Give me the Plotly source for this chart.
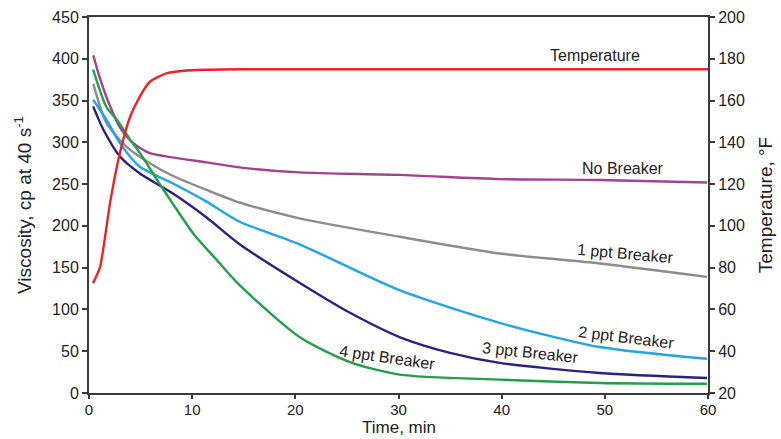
import plotly.graph_objects as go

# Temperature (°F, right axis)
temp_t = [0.39, 1.07, 2.04, 3.0, 3.97, 4.94, 5.9, 7.5, 9.8, 15, 20, 30, 40, 50, 60]
temp_v = [72.6, 80.3, 111, 135, 152, 162, 169, 173, 174.5, 175, 175, 175, 175, 175, 175]

# Viscosity (cp, left axis)
nob_t = [0.42, 0.9, 1.7, 3.0, 4.3, 5.9, 8.1, 11.4, 14.6, 20.4, 30.1, 39.8, 49.5, 59.9]
nob_v = [404, 383, 354, 318, 299, 287, 282, 276, 270, 264, 261, 256, 255, 252]

p1_t = [0.42, 1.7, 3.7, 5.9, 8.1, 11.4, 14.6, 20.4, 30.1, 39.8, 49.5, 59.9]
p1_v = [370, 323, 294, 275, 260, 243, 228, 209, 187, 167, 155, 139]

p2_t = [0.4, 1.7, 3.0, 4.9, 8.1, 11.4, 14.6, 20.4, 30.1, 39.8, 49.5, 59.9]
p2_v = [351, 327, 299, 271, 251, 229, 205, 178, 123, 84, 55, 41]

p3_t = [0.4, 1.4, 3.0, 4.9, 8.1, 11.4, 14.6, 20.4, 25.3, 30.1, 35.0, 39.8, 49.5, 59.9]
p3_v = [343, 315, 283, 263, 239, 210, 178, 132, 96, 67, 48, 36, 24, 18]

p4_t = [0.4, 1.7, 2.7, 4.0, 4.9, 6.6, 8.1, 10.1, 12.4, 14.6, 20.4, 25.3, 30.1, 39.8, 49.5, 59.9]
p4_v = [387, 342, 327, 303, 288, 255, 227, 191, 159, 129, 67, 37, 22, 16, 12, 11]

labels = ["Temperature", "No Breaker", "1 ppt Breaker", "2 ppt Breaker", "3 ppt Breaker", "4 ppt Breaker"]
label_t = [49.0, 51.8, 52.0, 52.1, 42.8, 28.9]
label_v = [404.5, 269, 167.5, 67, 48, 43]
label_ang = [0, 0, 5, 7, 6, 8]

x_title = "Time, min"

colors = {"nob": "#a3428f", "p1": "#8c8c8c", "p2": "#1ea5ea", "p3": "#2b2185",
          "p4": "#20a148", "temp": "#ec2424"}

fig = go.Figure()
for t, v, c in [(nob_t, nob_v, colors["nob"]), (p1_t, p1_v, colors["p1"]),
                (p2_t, p2_v, colors["p2"]), (p3_t, p3_v, colors["p3"]),
                (p4_t, p4_v, colors["p4"])]:
    fig.add_trace(go.Scatter(x=t, y=v, mode="lines",
                             line=dict(color=c, width=2.4, shape="spline", smoothing=0.7),
                             showlegend=False, hoverinfo="skip"))
fig.add_trace(go.Scatter(x=temp_t, y=temp_v, mode="lines", yaxis="y2",
                         line=dict(color=colors["temp"], width=2.4, shape="spline", smoothing=0.6),
                         showlegend=False, hoverinfo="skip"))

for txt, t, v, a in zip(labels, label_t, label_v, label_ang):
    fig.add_annotation(x=t, y=v, text=txt, showarrow=False, textangle=a,
                       font=dict(family="Liberation Sans, Arial", size=16, color="#222"))

# x-axis title placed below the tick labels
fig.add_annotation(x=0.5, xref="paper", y=-0.1197, yref="paper", text=x_title,
                   showarrow=False, xanchor="center", yanchor="bottom", borderpad=0,
                   font=dict(family="Liberation Sans, Arial", size=17, color="#222"))

axis_col = "#3a3a3a"
font = dict(family="Liberation Sans, Arial", size=15, color="#222")
fig.update_layout(
    width=781, height=439,
    margin=dict(l=89, r=73, t=17, b=46, autoexpand=False),
    paper_bgcolor="white", plot_bgcolor="white",
    font=font,
    xaxis=dict(range=[0, 60], tickvals=[0, 10, 20, 30, 40, 50, 60], showgrid=False, zeroline=False,
               showline=True, linecolor=axis_col, linewidth=2, mirror=True,
               ticks="outside", ticklen=4, tickcolor=axis_col, tickwidth=1.5,
               ticklabelstandoff=-2, tickfont=dict(size=15)),
    yaxis=dict(range=[0, 450], tickvals=list(range(0, 451, 50)), showgrid=False, zeroline=False,
               showline=True, linecolor=axis_col, linewidth=2,
               ticks="outside", ticklen=5, tickcolor=axis_col, tickwidth=1.5,
               tickfont=dict(size=16),
               title=dict(text="Viscosity, cp at 40 s<sup>-1</sup>", font=dict(size=19))),
    yaxis2=dict(range=[20, 200], tickvals=list(range(20, 201, 20)), overlaying="y", side="right",
                showgrid=False, zeroline=False, showline=True, linecolor=axis_col, linewidth=2,
                ticks="outside", ticklen=5, tickcolor=axis_col, tickwidth=1.5,
                tickfont=dict(size=16),
                title=dict(text="Temperature, °F", font=dict(size=19))),
)
fig.write_html("out.html", config={"displayModeBar": False},
               post_script="document.body.style.margin='0';document.body.style.overflow='hidden';")
